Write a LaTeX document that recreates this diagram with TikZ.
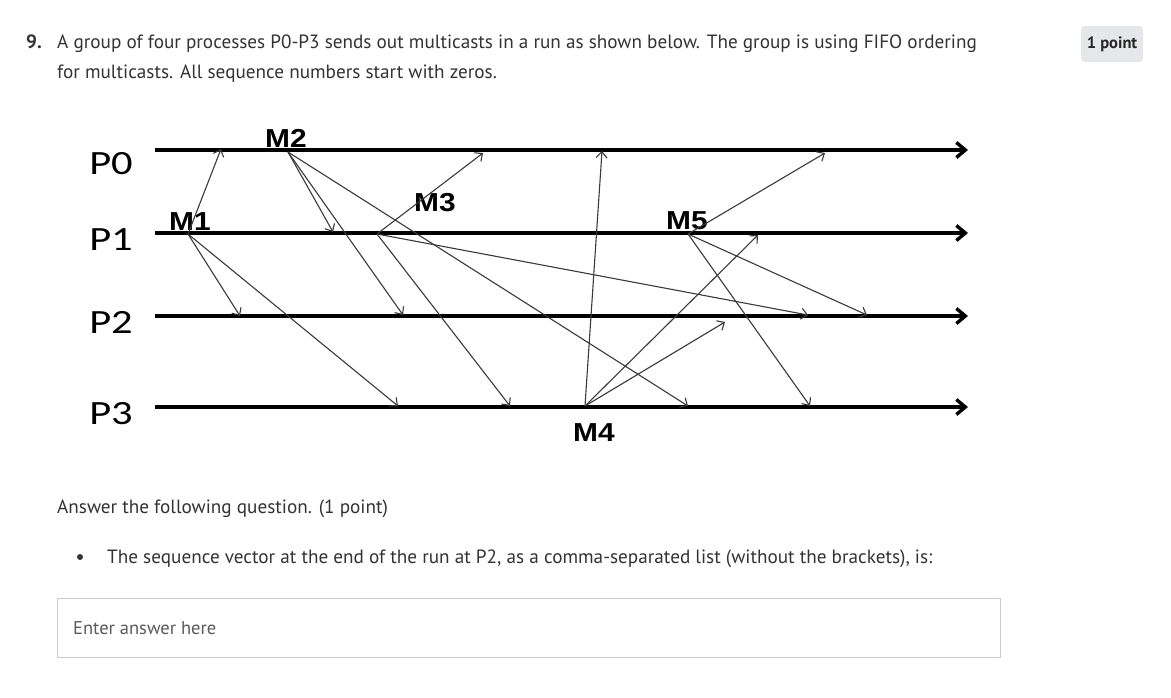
\documentclass[tikz,border=0pt]{standalone}
\usepackage{fontspec}
\setmainfont{PT Sans}
\newfontfamily\calibf{Carlito}
\newfontfamily\arialf{Liberation Sans}
\usetikzlibrary{arrows.meta}
\definecolor{txt}{HTML}{333333}
\definecolor{msg}{HTML}{3A3A3A}
\definecolor{boxline}{HTML}{C8CCD4}
\definecolor{badge}{HTML}{E6E7E9}
\definecolor{hint}{HTML}{5A5A5A}
\tikzset{
  body/.style={inner sep=0pt, text=txt, font=\fontsize{19.2}{22}\selectfont},
  proc/.style={line width=3.4pt, -{Straight Barb[length=9pt,width=15pt]}},
  msgarrow/.style={draw=msg, line width=1.1pt, -{Straight Barb[length=6pt,width=11pt]}},
  plabel/.style={inner sep=0pt, font=\calibf\fontsize{34}{34}\selectfont},
  mlabel/.style={inner sep=0pt, font=\arialf\bfseries\fontsize{26}{26}\selectfont},
}
\begin{document}
\begin{tikzpicture}[x=1pt,y=-1pt]
\useasboundingbox (0,0) rectangle (1171,697);
\fill[white] (0,0) rectangle (1171,697);

% header text
\node[body, anchor=base west, font=\bfseries\fontsize{19.2}{22}\selectfont] (num) at (26,48.5) {9.};
\node[body, anchor=base west] (q1) at (57,48.5) {A group of four processes P0-P3 sends out multicasts in a run as shown below. The group is using FIFO ordering};
\node[body, anchor=base west] (q2) at (57,78.5) {for multicasts. All sequence numbers start with zeros.};

% badge
\node[fill=badge, rounded corners=4pt, minimum width=62pt, minimum height=36pt, inner sep=0pt,
      font=\bfseries\fontsize{16.5}{18}\selectfont, text=black!85] (pt) at (1112,44) {1 point};

% process lines
\foreach \n/\y in {0/150,1/233,2/316,3/407}{
  \coordinate (s\n) at (155,\y);
  \coordinate (e\n) at (968,\y);
  \draw[proc] (s\n) -- (e\n);
}
\node[plabel] (lp0) at (111,164) {\scalebox{1.25}[1]{P0}};
\node[plabel] (lp1) at (111,240) {\scalebox{1.25}[1]{P1}};
\node[plabel] (lp2) at (111,322) {\scalebox{1.25}[1]{P2}};
\node[plabel] (lp3) at (111,414) {\scalebox{1.25}[1]{P3}};

% message labels
\node[mlabel] (lm1) at (190,222) {\scalebox{1.15}[1]{M1}};
\node[mlabel] (lm2) at (286,138) {\scalebox{1.15}[1]{M2}};
\node[mlabel] (lm3) at (435,203) {\scalebox{1.15}[1]{M3}};
\node[mlabel] (lm4) at (594,433) {\scalebox{1.15}[1]{M4}};
\node[mlabel] (lm5) at (687,221) {\scalebox{1.15}[1]{M5}};

% send points
\coordinate (m1) at (188,234);
\coordinate (m2) at (288,152);
\coordinate (m3) at (377,234);
\coordinate (m4) at (585,406);
\coordinate (m5) at (688,234);

% receive points
\coordinate (r10) at (221,149);
\coordinate (r12) at (240,316);
\coordinate (r13) at (398,406);
\coordinate (r21) at (333,232);
\coordinate (r22) at (403,315);
\coordinate (r23) at (688,406);
\coordinate (r30) at (483,153);
\coordinate (r32) at (808,315);
\coordinate (r33) at (510,406);
\coordinate (r40) at (602,151);
\coordinate (r41) at (758,235);
\coordinate (r42) at (725,322);
\coordinate (r50) at (825,153);
\coordinate (r52) at (867,315);
\coordinate (r53) at (810,406);

\foreach \a/\b in {m1/r10,m1/r12,m1/r13,m2/r21,m2/r22,m2/r23,m3/r30,m3/r32,m3/r33,m4/r40,m4/r41,m4/r42,m5/r50,m5/r52,m5/r53}{
  \draw[msgarrow] (\a) -- (\b);
}

% question
\node[body, anchor=base west] (ans) at (57,513) {Answer the following question. (1 point)};
\node[circle, fill=txt, minimum size=6pt, inner sep=0pt] (bul) at (80,557) {};
\node[body, anchor=base west] (seq) at (107,563) {The sequence vector at the end of the run at P2, as a comma-separated list (without the brackets), is:};

% answer box
\node[draw=boxline, line width=1pt, minimum width=943pt, minimum height=59pt, inner sep=0pt, anchor=north west] (box) at (57,598) {};
\node[inner sep=0pt, anchor=base west, text=hint, font=\fontsize{18.5}{20}\selectfont] (hint) at (73,634) {Enter answer here};
\end{tikzpicture}
\end{document}
